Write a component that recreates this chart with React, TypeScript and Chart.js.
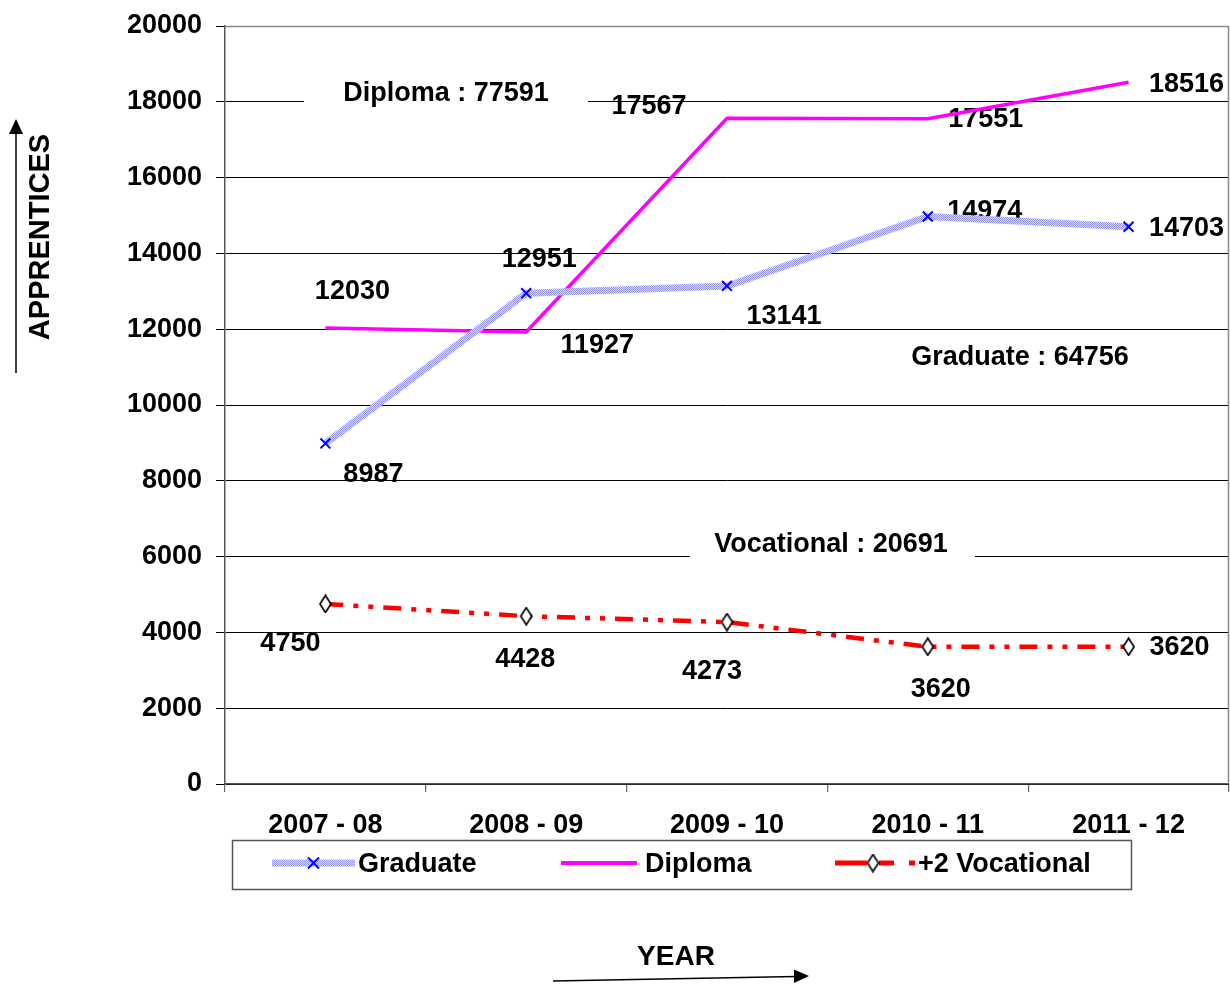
import React, { useEffect, useRef } from 'react';
import { Chart, registerables } from 'chart.js';

Chart.register(...registerables);

// ---------- data ----------
const categories = ['2007 - 08', '2008 - 09', '2009 - 10', '2010 - 11', '2011 - 12'];
const graduate = [8987, 12951, 13141, 14974, 14703];
const diploma = [12030, 11927, 17567, 17551, 18516];
const vocational = [4750, 4428, 4273, 3620, 3620];
const seriesNames = ['Graduate', 'Diploma', '+2 Vocational'];
const totalNames = ['Graduate', 'Diploma', 'Vocational'];
const yMin = 0;
const yMax = 20000;
const yStep = 2000;
const yTitle = 'APPRENTICES';
const xTitle = 'YEAR';

// ---------- styling / layout ----------
const FONT = "'Liberation Sans', Arial, Helvetica, sans-serif";
const FS = 27;

// label offsets relative to each point, px
const labelOffsets: number[][][] = [
  [[48, 31], [13, -34], [57, 31], [57, -5], [58, 2]],
  [[27, -37], [71, 14], [-78, -12], [58, 1], [58, 2]],
  [[-35, 40], [-1, 43], [-15, 49], [13, 43], [51, 1]],
];

// total annotation boxes (canvas px): text center and white box
const totalBoxes = [
  { cx: 1020, cy: 358, box: [895, 343, 250, 32] },
  { cx: 446, cy: 94, box: [304, 80, 284, 30] },
  { cx: 831, cy: 545, box: [690, 530, 285, 30] },
];

function makeHatch(): CanvasPattern | string {
  const c = document.createElement('canvas');
  c.width = 2;
  c.height = 2;
  const g = c.getContext('2d');
  if (!g) return '#9999ff';
  g.fillStyle = '#e0e0ff';
  g.fillRect(0, 0, 2, 2);
  g.fillStyle = '#9090ff';
  g.fillRect(0, 0, 1, 1);
  g.fillRect(1, 1, 1, 1);
  const p = g.createPattern(c, 'repeat');
  return p || '#9999ff';
}

function makeDiamond(): HTMLCanvasElement {
  const c = document.createElement('canvas');
  c.width = 13;
  c.height = 19;
  const g = c.getContext('2d')!;
  g.beginPath();
  g.moveTo(6.5, 1);
  g.lineTo(12, 9.5);
  g.lineTo(6.5, 18);
  g.lineTo(1, 9.5);
  g.closePath();
  g.fillStyle = '#ffffff';
  g.fill();
  g.lineWidth = 1.7;
  g.strokeStyle = '#000000';
  g.stroke();
  return c;
}

export default function App() {
  const ref = useRef<HTMLCanvasElement | null>(null);

  useEffect(() => {
    if (!ref.current) return;
    const hatch = makeHatch();
    const diamond = makeDiamond();
    const seriesData = [graduate, diploma, vocational];
    const totals = seriesData.map((s) => s.reduce((a, b) => a + b, 0));
    const font = `bold ${FS}px ${FONT}`;

    const decor = {
      id: 'decor',
      beforeDatasetsDraw(chart: any) {
        const ctx = chart.ctx as CanvasRenderingContext2D;
        ctx.save();
        ctx.font = font;
        ctx.textAlign = 'center';
        ctx.textBaseline = 'middle';
        totalBoxes.forEach((t, i) => {
          ctx.fillStyle = '#ffffff';
          ctx.fillRect(t.box[0], t.box[1], t.box[2], t.box[3]);
          ctx.fillStyle = '#000000';
          ctx.fillText(`${totalNames[i]} : ${totals[i]}`, t.cx, t.cy);
        });
        chart.data.datasets.forEach((ds: any, di: number) => {
          const meta = chart.getDatasetMeta(di);
          meta.data.forEach((pt: any, j: number) => {
            const off = labelOffsets[di][j];
            ctx.fillText(String(ds.data[j]), pt.x + off[0], pt.y + off[1]);
          });
        });
        ctx.restore();
      },
      afterDraw(chart: any) {
        const ctx = chart.ctx as CanvasRenderingContext2D;
        const { left, right, top, bottom } = chart.chartArea;
        ctx.save();
        ctx.strokeStyle = '#8a8a8a';
        ctx.lineWidth = 1.5;
        ctx.beginPath();
        ctx.moveTo(left, top + 0.5);
        ctx.lineTo(right, top + 0.5);
        ctx.moveTo(right - 0.5, top);
        ctx.lineTo(right - 0.5, bottom);
        ctx.stroke();

        // legend
        ctx.strokeStyle = '#555555';
        ctx.lineWidth = 1.5;
        ctx.strokeRect(232.5, 840.5, 899, 49);
        const ly = 863;
        ctx.strokeStyle = hatch as any;
        ctx.lineWidth = 7;
        ctx.beginPath();
        ctx.moveTo(272, ly);
        ctx.lineTo(355, ly);
        ctx.stroke();
        ctx.strokeStyle = '#0000ff';
        ctx.lineWidth = 2;
        ctx.beginPath();
        ctx.moveTo(308, ly - 5.5);
        ctx.lineTo(319, ly + 5.5);
        ctx.moveTo(319, ly - 5.5);
        ctx.lineTo(308, ly + 5.5);
        ctx.stroke();
        ctx.strokeStyle = '#ff00ff';
        ctx.lineWidth = 4;
        ctx.beginPath();
        ctx.moveTo(561, ly);
        ctx.lineTo(637, ly);
        ctx.stroke();
        ctx.strokeStyle = '#ff0000';
        ctx.lineWidth = 5;
        ctx.beginPath();
        ctx.moveTo(835, ly);
        ctx.lineTo(867, ly);
        ctx.moveTo(879, ly);
        ctx.lineTo(894, ly);
        ctx.moveTo(909, ly);
        ctx.lineTo(915, ly);
        ctx.stroke();
        ctx.drawImage(diamond, 873 - 6.5, ly - 9.5);
        ctx.fillStyle = '#000000';
        ctx.font = font;
        ctx.textAlign = 'left';
        ctx.textBaseline = 'middle';
        ctx.fillText(seriesNames[0], 358, ly + 2);
        ctx.fillText(seriesNames[1], 645, ly + 2);
        ctx.fillText(seriesNames[2], 918, ly + 2);

        // y title
        ctx.save();
        ctx.translate(40, 237);
        ctx.rotate(-Math.PI / 2);
        ctx.font = `bold 29px ${FONT}`;
        ctx.textAlign = 'center';
        ctx.textBaseline = 'middle';
        ctx.fillText(yTitle, 0, 1);
        ctx.restore();
        ctx.strokeStyle = '#000000';
        ctx.lineWidth = 1.5;
        ctx.beginPath();
        ctx.moveTo(16, 373);
        ctx.lineTo(16, 130);
        ctx.stroke();
        ctx.fillStyle = '#000000';
        ctx.beginPath();
        ctx.moveTo(16, 119);
        ctx.lineTo(23, 134);
        ctx.lineTo(9, 134);
        ctx.closePath();
        ctx.fill();

        // x title
        ctx.font = `bold 28px ${FONT}`;
        ctx.textAlign = 'center';
        ctx.textBaseline = 'middle';
        ctx.fillText(xTitle, 676, 957);
        ctx.beginPath();
        ctx.moveTo(553, 981);
        ctx.lineTo(796, 976.5);
        ctx.stroke();
        ctx.beginPath();
        ctx.moveTo(809, 976);
        ctx.lineTo(794, 969.5);
        ctx.lineTo(794, 983);
        ctx.closePath();
        ctx.fill();
        ctx.restore();
      },
    };

    const chart = new Chart(ref.current, {
      type: 'line',
      data: {
        labels: categories,
        datasets: [
          {
            label: seriesNames[0],
            data: graduate,
            borderColor: hatch as any,
            borderWidth: 7,
            pointStyle: 'crossRot',
            pointRadius: 7,
            pointBorderColor: '#0000ff',
            pointBackgroundColor: '#0000ff',
            pointBorderWidth: 2,
            tension: 0,
            fill: false,
          },
          {
            label: seriesNames[1],
            data: diploma,
            borderColor: '#ff00ff',
            borderWidth: 3.5,
            pointRadius: 0,
            tension: 0,
            fill: false,
          },
          {
            label: seriesNames[2],
            data: vocational,
            borderColor: '#ff0000',
            borderWidth: 4.5,
            borderDash: [18, 10, 5, 10, 5, 10],
            pointStyle: diamond as any,
            pointRadius: 8,
            tension: 0,
            fill: false,
          },
        ],
      },
      options: {
        responsive: false,
        animation: false,
        events: [],
        layout: { autoPadding: false, padding: { top: 26, right: 1, left: 0, bottom: 0 } },
        plugins: {
          legend: { display: false },
          tooltip: { enabled: false },
          title: { display: false },
        },
        scales: {
          x: {
            type: 'category',
            offset: true,
            grid: {
              offset: true,
              drawOnChartArea: false,
              drawTicks: true,
              tickLength: 8,
              color: '#666666',
              lineWidth: 1.2,
            },
            border: { display: true, color: '#555555', width: 1.5 },
            ticks: {
              color: '#000000',
              font: { family: FONT, size: FS, weight: 'bold' },
              padding: 17,
              maxRotation: 0,
              autoSkip: false,
            },
            afterFit: (s: any) => {
              s.height = 201;
              s.paddingLeft = 0;
              s.paddingRight = 0;
            },
          },
          y: {
            min: yMin,
            max: yMax,
            grid: {
              color: '#000000',
              lineWidth: 1,
              tickLength: 9,
            },
            border: { display: true, color: '#555555', width: 1.5 },
            ticks: {
              stepSize: yStep,
              color: '#000000',
              font: { family: FONT, size: FS, weight: 'bold' },
              padding: 14,
              callback: (v: any) => String(v),
            },
            afterFit: (s: any) => {
              s.width = 225;
              s.paddingTop = 0;
              s.paddingBottom = 0;
            },
          },
        },
      },
      plugins: [decor],
    } as any);

    return () => chart.destroy();
  }, []);

  return (
    <div style={{ position: 'absolute', left: 0, top: 0, width: 1230, height: 985, background: '#ffffff' }}>
      <canvas ref={ref} width={1230} height={985} style={{ display: 'block', width: 1230, height: 985 }} />
    </div>
  );
}
